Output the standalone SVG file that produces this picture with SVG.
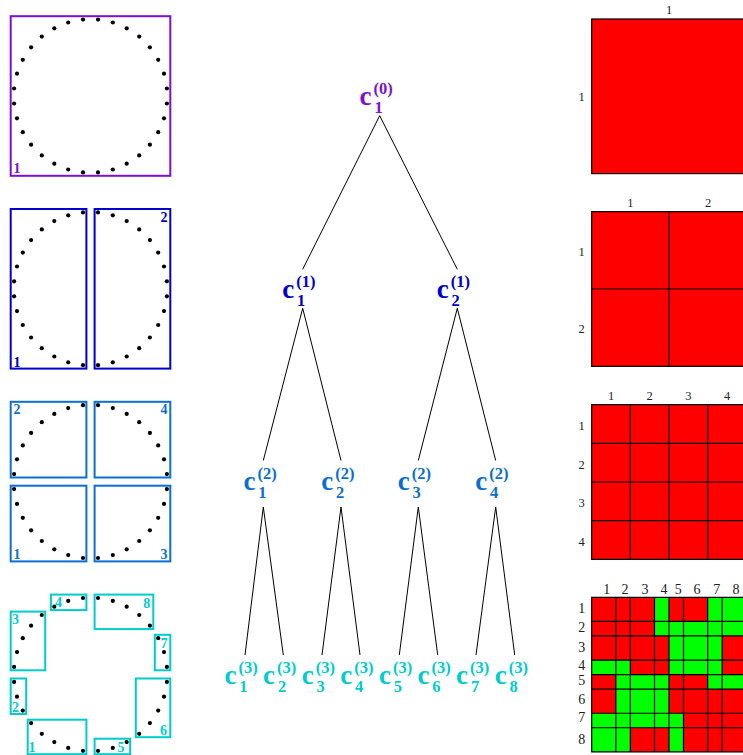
<svg xmlns="http://www.w3.org/2000/svg" xmlns:xlink="http://www.w3.org/1999/xlink" width="743" height="755" viewBox="0 0 743 755">
<style>
.box{fill:none;stroke-width:2}
.p{stroke:#7a10d6}.pt{fill:#7a10d6}
.b{stroke:#0000cc}.bt{fill:#0000cc}
.m{stroke:#0b6fd1}.mt{fill:#0b6fd1}
.y{stroke:#00cccc}.yt{fill:#00cccc}
.bl{font-family:"Liberation Serif",serif;font-weight:bold;font-size:14px}
.c{font-family:"Liberation Serif",serif;font-weight:bold;font-size:27px}
.s{font-family:"Liberation Serif",serif;font-weight:bold;font-size:16.5px}
.edge{stroke:#000;stroke-width:1;fill:none}
.ml{font-family:"Liberation Serif",serif;font-size:12.5px;fill:#222;text-anchor:middle}
.ml4{font-family:"Liberation Serif",serif;font-size:14px;fill:#222;text-anchor:middle}
.red{fill:#ff0000}.grn{fill:#00ff00}
.grid{stroke:#000;stroke-width:1.2;fill:none}
</style>
<defs>
<g id="dots" fill="#000">
<circle cx="98.0" cy="19.6" r="2.1"/><circle cx="112.8" cy="22.5" r="2.1"/><circle cx="126.7" cy="28.3" r="2.1"/><circle cx="139.2" cy="36.6" r="2.1"/><circle cx="149.9" cy="47.3" r="2.1"/><circle cx="158.2" cy="59.8" r="2.1"/><circle cx="164.0" cy="73.7" r="2.1"/><circle cx="166.9" cy="88.5" r="2.1"/>
<circle cx="166.9" cy="103.5" r="2.1"/><circle cx="164.0" cy="118.3" r="2.1"/><circle cx="158.2" cy="132.2" r="2.1"/><circle cx="149.9" cy="144.7" r="2.1"/><circle cx="139.2" cy="155.4" r="2.1"/><circle cx="126.7" cy="163.7" r="2.1"/><circle cx="112.8" cy="169.5" r="2.1"/><circle cx="98.0" cy="172.4" r="2.1"/>
<circle cx="83.0" cy="172.4" r="2.1"/><circle cx="68.2" cy="169.5" r="2.1"/><circle cx="54.3" cy="163.7" r="2.1"/><circle cx="41.8" cy="155.4" r="2.1"/><circle cx="31.1" cy="144.7" r="2.1"/><circle cx="22.8" cy="132.2" r="2.1"/><circle cx="17.0" cy="118.3" r="2.1"/><circle cx="14.1" cy="103.5" r="2.1"/>
<circle cx="14.1" cy="88.5" r="2.1"/><circle cx="17.0" cy="73.7" r="2.1"/><circle cx="22.8" cy="59.8" r="2.1"/><circle cx="31.1" cy="47.3" r="2.1"/><circle cx="41.8" cy="36.6" r="2.1"/><circle cx="54.3" cy="28.3" r="2.1"/><circle cx="68.2" cy="22.5" r="2.1"/><circle cx="83.0" cy="19.6" r="2.1"/>
</g>
</defs>
<rect width="743" height="755" fill="#fff"/>

<!-- Left panel: point clusters -->
<g id="level0-points">
<use href="#dots"/>
<rect class="box p" x="10.7" y="16.2" width="159.6" height="159.6"/>
<text class="bl pt" x="13.5" y="173">1</text>
</g>
<g id="level1-points">
<use href="#dots" y="192.8"/>
<rect class="box b" x="10.7" y="209" width="75.7" height="159.6"/>
<rect class="box b" x="94.6" y="209" width="75.7" height="159.6"/>
<text class="bl bt" x="13.5" y="366.5">1</text>
<text class="bl bt" x="167.5" y="221.5" text-anchor="end">2</text>
</g>
<g id="level2-points">
<use href="#dots" y="385.6"/>
<rect class="box m" x="10.7" y="401.8" width="75.7" height="75.7"/>
<rect class="box m" x="94.6" y="401.8" width="75.7" height="75.7"/>
<rect class="box m" x="10.7" y="485.7" width="75.7" height="75.7"/>
<rect class="box m" x="94.6" y="485.7" width="75.7" height="75.7"/>
<text class="bl mt" x="13.5" y="414">2</text>
<text class="bl mt" x="167.5" y="414" text-anchor="end">4</text>
<text class="bl mt" x="13.5" y="558.5">1</text>
<text class="bl mt" x="167.5" y="558.5" text-anchor="end">3</text>
</g>
<g id="level3-points">
<use href="#dots" y="578.4"/>
<rect class="box y" x="27.7" y="719.7" width="58.7" height="34.5"/>
<rect class="box y" x="10.7" y="678.5" width="15.5" height="35.5"/>
<rect class="box y" x="10.7" y="611.6" width="34.5" height="58.7"/>
<rect class="box y" x="50.9" y="594.6" width="35.5" height="15.5"/>
<rect class="box y" x="94.6" y="738.7" width="35.5" height="15.5"/>
<rect class="box y" x="135.8" y="678.5" width="34.5" height="58.7"/>
<rect class="box y" x="154.8" y="634.8" width="15.5" height="35.5"/>
<rect class="box y" x="94.6" y="594.6" width="58.7" height="34.5"/>
<text class="bl yt" x="28.5" y="751.7">1</text>
<text class="bl yt" x="12" y="711.7">2</text>
<text class="bl yt" x="12" y="623.5">3</text>
<text class="bl yt" x="55" y="606.7">4</text>
<text class="bl yt" x="117.5" y="751.7">5</text>
<text class="bl yt" x="160" y="735">6</text>
<text class="bl yt" x="160.5" y="648.3">7</text>
<text class="bl yt" x="143.3" y="607.7">8</text>
</g>

<!-- Tree connectors -->
<g id="connectors" class="edge">
<path d="M379.7,115.7 L302.7,269.3 M379.7,115.7 L457.3,269.3"/>
<path d="M302.7,308.3 L263.3,460.5 M302.7,308.3 L341,460.5 M457.3,308.3 L418.3,460.5 M457.3,308.3 L495.7,460.5"/>
<path d="M263.3,507 L245,655 M263.3,507 L283.3,655 M341,507 L322,655 M341,507 L360,655 M418.3,507 L399.3,655 M418.3,507 L437.7,655 M495.7,507 L476,655 M495.7,507 L514.7,655"/>
</g>

<!-- Tree nodes -->
<g id="c1_0" class="pt"><text class="c" x="359.5" y="105">c</text><text class="s" x="374.5" y="113">1</text><text class="s" x="373.5" y="94">(0)</text></g>

<g id="c1_1" class="bt"><text class="c" x="282.2" y="298.3">c</text><text class="s" x="297" y="306.3">1</text><text class="s" x="296.2" y="287.3">(1)</text></g>
<g id="c2_1" class="bt"><text class="c" x="436.8" y="298.3">c</text><text class="s" x="451.6" y="306.3">2</text><text class="s" x="450.8" y="287.3">(1)</text></g>

<g id="c1_2" class="mt"><text class="c" x="243.5" y="490">c</text><text class="s" x="258.3" y="498">1</text><text class="s" x="257.5" y="479">(2)</text></g>
<g id="c2_2" class="mt"><text class="c" x="321.2" y="490">c</text><text class="s" x="336" y="498">2</text><text class="s" x="335.2" y="479">(2)</text></g>
<g id="c3_2" class="mt"><text class="c" x="397.8" y="490">c</text><text class="s" x="412.6" y="498">3</text><text class="s" x="411.8" y="479">(2)</text></g>
<g id="c4_2" class="mt"><text class="c" x="475.2" y="490">c</text><text class="s" x="490" y="498">4</text><text class="s" x="489.2" y="479">(2)</text></g>

<g id="c1_3" class="yt"><text class="c" x="224.5" y="684.3">c</text><text class="s" x="239.3" y="692">1</text><text class="s" x="238.5" y="673">(3)</text></g>
<g id="c2_3" class="yt"><text class="c" x="263.1" y="684.3">c</text><text class="s" x="277.9" y="692">2</text><text class="s" x="277.1" y="673">(3)</text></g>
<g id="c3_3" class="yt"><text class="c" x="301.7" y="684.3">c</text><text class="s" x="316.5" y="692">3</text><text class="s" x="315.7" y="673">(3)</text></g>
<g id="c4_3" class="yt"><text class="c" x="340.3" y="684.3">c</text><text class="s" x="355.1" y="692">4</text><text class="s" x="354.3" y="673">(3)</text></g>
<g id="c5_3" class="yt"><text class="c" x="378.9" y="684.3">c</text><text class="s" x="393.7" y="692">5</text><text class="s" x="392.9" y="673">(3)</text></g>
<g id="c6_3" class="yt"><text class="c" x="417.5" y="684.3">c</text><text class="s" x="432.3" y="692">6</text><text class="s" x="431.5" y="673">(3)</text></g>
<g id="c7_3" class="yt"><text class="c" x="456.1" y="684.3">c</text><text class="s" x="470.9" y="692">7</text><text class="s" x="470.1" y="673">(3)</text></g>
<g id="c8_3" class="yt"><text class="c" x="494.7" y="684.3">c</text><text class="s" x="509.5" y="692">8</text><text class="s" x="508.7" y="673">(3)</text></g>

<!-- Matrices -->
<g id="matrix1">
<rect class="red" x="591.7" y="19" width="154.6" height="154.6"/>
<rect class="grid" x="591.7" y="19" width="154.6" height="154.6"/>
<text class="ml" x="669" y="13.5">1</text>
<text class="ml" x="581.7" y="101">1</text>
</g>
<g id="matrix2">
<rect class="red" x="591.7" y="211.7" width="154.6" height="154.6"/>
<path class="grid" d="M591.7,211.7 H746.3 V366.3 H591.7 Z M669,211.7 V366.3 M591.7,289 H746.3"/>
<text class="ml" x="630.3" y="207">1</text>
<text class="ml" x="708" y="207">2</text>
<text class="ml" x="581.7" y="256">1</text>
<text class="ml" x="581.7" y="332.5">2</text>
</g>
<g id="matrix3">
<rect class="red" x="591.7" y="404.7" width="154.6" height="154.6"/>
<path class="grid" d="M591.7,404.7 H746.3 V559.3 H591.7 Z M630.35,404.7 V559.3 M669,404.7 V559.3 M707.65,404.7 V559.3 M591.7,443.35 H746.3 M591.7,482 H746.3 M591.7,520.65 H746.3"/>
<text class="ml" x="611" y="400">1</text>
<text class="ml" x="649.7" y="400">2</text>
<text class="ml" x="688.3" y="400">3</text>
<text class="ml" x="727" y="400">4</text>
<text class="ml" x="581.7" y="430">1</text>
<text class="ml" x="581.7" y="468.5">2</text>
<text class="ml" x="581.7" y="507">3</text>
<text class="ml" x="581.7" y="545.5">4</text>
</g>
<g id="matrix4">
<rect class="red" x="591.7" y="597.3" width="154.6" height="154.6"/>
<rect class="grn" x="654.5" y="597.3" width="14.5" height="24.15"/>
<rect class="grn" x="707.65" y="597.3" width="38.65" height="24.15"/>
<rect class="grn" x="654.5" y="621.45" width="91.8" height="14.5"/>
<rect class="grn" x="669" y="635.95" width="53.15" height="24.15"/>
<rect class="grn" x="591.7" y="660.1" width="38.65" height="14.5"/>
<rect class="grn" x="669" y="660.1" width="53.15" height="14.5"/>
<rect class="grn" x="615.85" y="674.6" width="53.15" height="14.5"/>
<rect class="grn" x="707.65" y="674.6" width="38.65" height="14.5"/>
<rect class="grn" x="615.85" y="689.1" width="53.15" height="24.15"/>
<rect class="grn" x="591.7" y="713.25" width="91.8" height="14.5"/>
<rect class="grn" x="591.7" y="727.75" width="38.65" height="24.15"/>
<rect class="grn" x="669" y="727.75" width="14.5" height="24.15"/>
<path class="grid" d="M591.7,597.3 H746.3 V751.9 H591.7 Z M615.85,597.3 V751.9 M630.35,597.3 V751.9 M654.5,597.3 V751.9 M669,597.3 V751.9 M683.5,597.3 V751.9 M707.65,597.3 V751.9 M722.15,597.3 V751.9 M591.7,621.45 H746.3 M591.7,635.95 H746.3 M591.7,660.1 H746.3 M591.7,674.6 H746.3 M591.7,689.1 H746.3 M591.7,713.25 H746.3 M591.7,727.75 H746.3"/>
<text class="ml4" x="606.7" y="593.5">1</text>
<text class="ml4" x="625" y="593.5">2</text>
<text class="ml4" x="645" y="593.5">3</text>
<text class="ml4" x="664" y="593.5">4</text>
<text class="ml4" x="678.3" y="593.5">5</text>
<text class="ml4" x="697" y="593.5">6</text>
<text class="ml4" x="716.7" y="593.5">7</text>
<text class="ml4" x="736" y="593.5">8</text>
<text class="ml4" x="581.7" y="612.5">1</text>
<text class="ml4" x="581.7" y="631.8">2</text>
<text class="ml4" x="581.7" y="651.8">3</text>
<text class="ml4" x="581.7" y="670.2">4</text>
<text class="ml4" x="581.7" y="684.5">5</text>
<text class="ml4" x="581.7" y="703.5">6</text>
<text class="ml4" x="581.7" y="722">7</text>
<text class="ml4" x="581.7" y="744">8</text>
</g>
</svg>
